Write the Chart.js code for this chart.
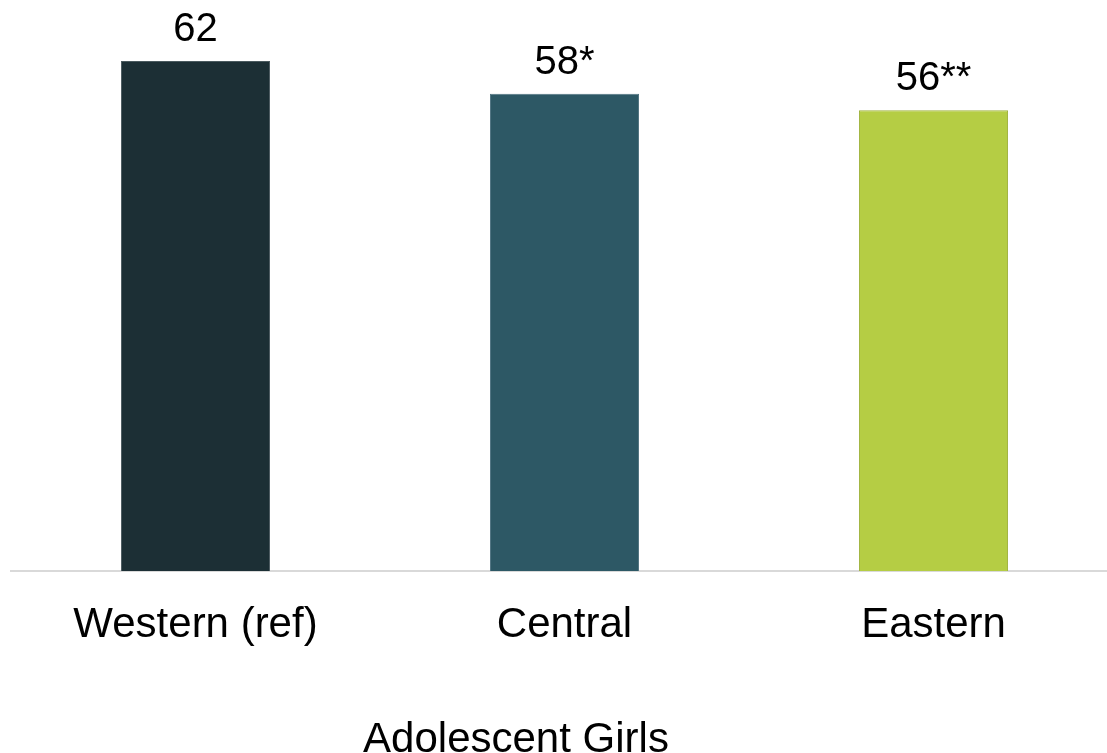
<!DOCTYPE html>
<html>
<head>
<meta charset="utf-8">
<script src="https://cdn.jsdelivr.net/npm/chart.js@4/dist/chart.umd.min.js"></script>
<style>
  html, body { margin: 0; padding: 0; background: #ffffff; overflow: hidden; }
  body { width: 1107px; height: 753px; position: relative; }
  #wrap { position: absolute; left: 0; top: 0; width: 1118px; height: 753px; }
  #groupTitle {
    position: absolute; left: 316px; width: 400px; top: 713px;
    text-align: center; font-family: "Liberation Sans", Arial, sans-serif;
    font-size: 42px; line-height: 50px; color: #000000; white-space: nowrap;
  }
</style>
</head>
<body>
<div id="wrap"><canvas id="chart"></canvas></div>
<div id="groupTitle">Adolescent Girls</div>
<script>
// Regions compared among adolescent girls
const regions = ['Western (ref)', 'Central', 'Eastern'];
const values = [62, 58, 56];
const valueLabels = ['62', '58*', '56**'];
const barColors = ['#1c2f35', '#2d5865', '#b5cd44'];
const barEdges = ['#4a5a5f', '#4f7380', '#9fb23e'];

// Writes each bar's value (with significance stars) above it
const valueLabelPlugin = {
  id: 'valueLabels',
  afterDatasetsDraw(chart) {
    const ctx = chart.ctx;
    const meta = chart.getDatasetMeta(0);
    ctx.save();
    ctx.font = '40px "Liberation Sans", Arial, sans-serif';
    ctx.fillStyle = '#000000';
    ctx.textAlign = 'center';
    ctx.textBaseline = 'alphabetic';
    meta.data.forEach((bar, i) => {
      ctx.fillText(valueLabels[i], bar.x, bar.y - 20);
    });
    ctx.restore();
  }
};

new Chart(document.getElementById('chart'), {
  type: 'bar',
  data: {
    labels: regions,
    datasets: [{
      data: values,
      backgroundColor: barColors,
      borderColor: barEdges,
      borderWidth: 1,
      categoryPercentage: 1,
      barPercentage: 0.404
    }]
  },
  options: {
    responsive: true,
    maintainAspectRatio: false,
    animation: false,
    devicePixelRatio: 1,
    layout: { padding: { left: 11, right: 0, top: 11.6, bottom: 73.6 } },
    plugins: {
      legend: { display: false },
      tooltip: { enabled: false },
      title: { display: false }
    },
    scales: {
      x: {
        offset: true,
        grid: { display: false, drawTicks: false },
        border: { display: true, color: '#d9d9d9', width: 2 },
        ticks: {
          padding: 29,
          color: '#000000',
          font: { family: '"Liberation Sans", Arial, sans-serif', size: 42 }
        }
      },
      y: {
        display: false,
        min: 0,
        max: 68
      }
    }
  },
  plugins: [valueLabelPlugin]
});
</script>
</body>
</html>
